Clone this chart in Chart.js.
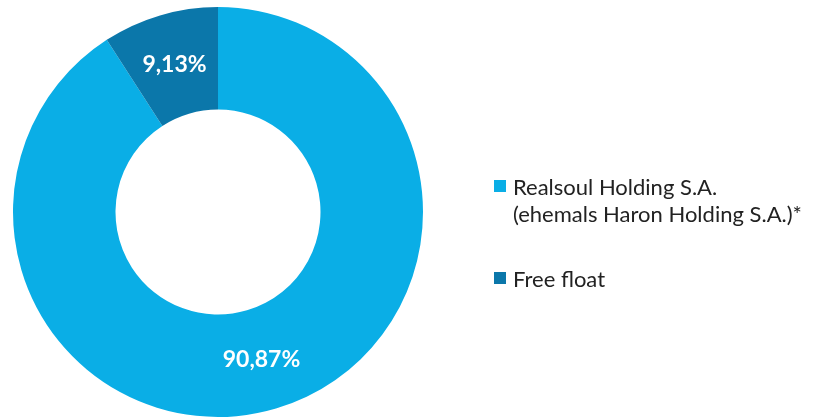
<!DOCTYPE html>
<html>
<head>
<meta charset="utf-8">
<script src="https://cdn.jsdelivr.net/npm/chart.js@4.4.1/dist/chart.umd.min.js"></script>
<style>
  html, body { margin: 0; padding: 0; background: #ffffff; }
  body { width: 815px; height: 420px; position: relative; overflow: hidden; font-family: Lato, "Open Sans", sans-serif; }
  #wrap { position: absolute; left: 0; top: 0; width: 436px; height: 420px; }
  #legend { position: absolute; left: 0; top: 0; width: 815px; height: 420px; pointer-events: none; }
  .item { position: absolute; left: 494px; display: flex; align-items: flex-start; }
  .box { width: 12px; height: 12px; margin-top: 7px; margin-right: 7px; flex: none; }
  .txt { font-size: 22px; line-height: 27px; color: #222222; white-space: nowrap; }
</style>
</head>
<body>
<div id="wrap"><canvas id="c"></canvas></div>
<div id="legend"></div>
<script>
const categories = [["Realsoul Holding S.A.", "(ehemals Haron Holding S.A.)*"], ["Free float"]];
const values = [90.87, 9.13];
const valueLabels = ["90,87%", "9,13%"];
const colors = ["#0aaee6", "#0b77aa"];
const legendTops = [173, 265];

const labelPlugin = {
  id: 'sliceLabels',
  afterDatasetsDraw(chart) {
    const ctx = chart.ctx;
    const meta = chart.getDatasetMeta(0);
    ctx.save();
    ctx.font = 'bold 23px Lato, "Open Sans", sans-serif';
    ctx.fillStyle = '#ffffff';
    ctx.textAlign = 'center';
    ctx.textBaseline = 'middle';
    meta.data.forEach((arc, i) => {
      const p = arc.tooltipPosition();
      ctx.fillText(valueLabels[i], p.x, p.y);
    });
    ctx.restore();
  }
};

new Chart(document.getElementById('c'), {
  type: 'doughnut',
  data: {
    labels: categories.map(c => c.join(' ')),
    datasets: [{
      data: values,
      backgroundColor: colors,
      borderWidth: 0
    }]
  },
  options: {
    responsive: true,
    maintainAspectRatio: false,
    animation: false,
    cutout: '50%',
    layout: { padding: { top: 7, bottom: 3, left: 0, right: 0 } },
    plugins: {
      legend: { display: false },
      tooltip: { enabled: false }
    }
  },
  plugins: [labelPlugin]
});

const lg = document.getElementById('legend');
categories.forEach((lines, i) => {
  const item = document.createElement('div');
  item.className = 'item';
  item.style.top = legendTops[i] + 'px';
  const box = document.createElement('div');
  box.className = 'box';
  box.style.background = colors[i];
  const txt = document.createElement('div');
  txt.className = 'txt';
  txt.innerHTML = lines.map(s => s.replace(/&/g, '&amp;').replace(/</g, '&lt;')).join('<br>');
  item.appendChild(box);
  item.appendChild(txt);
  lg.appendChild(item);
});
</script>
</body>
</html>
